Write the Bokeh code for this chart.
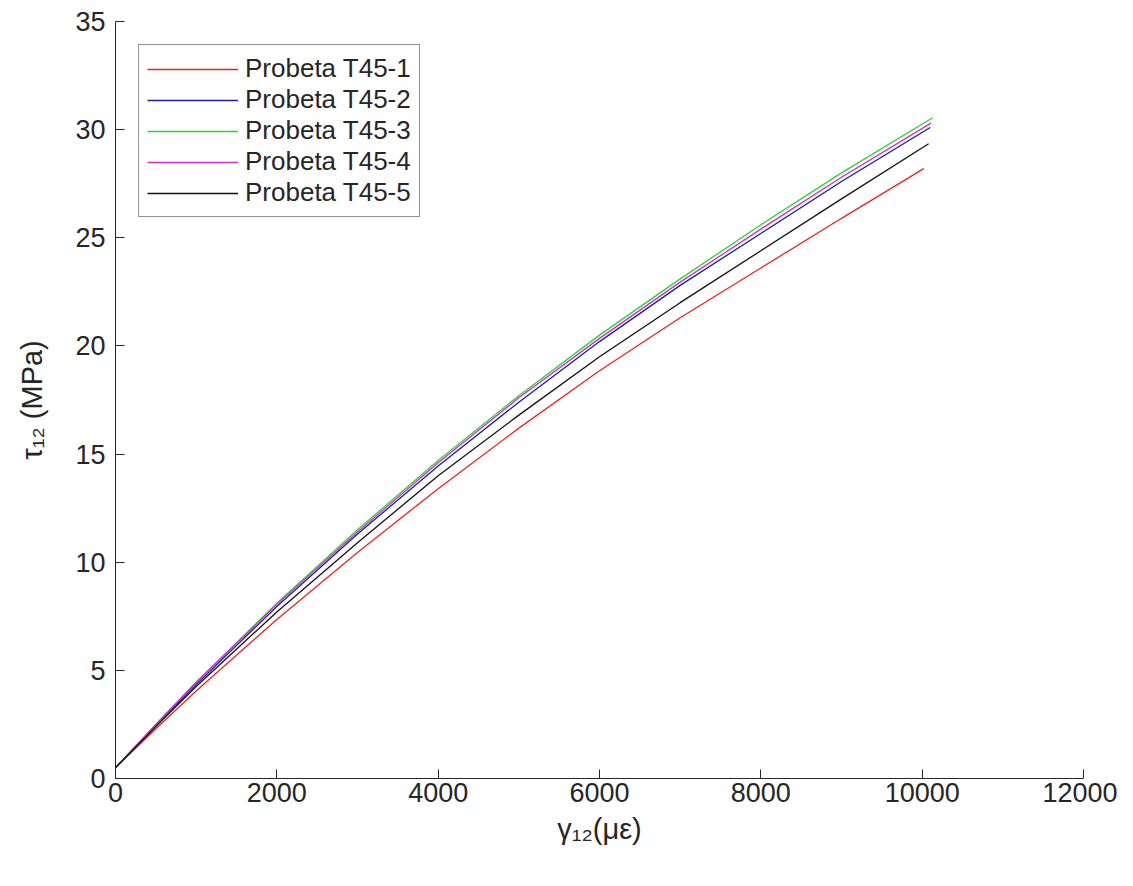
from bokeh.plotting import figure
from bokeh.models import Range1d, FixedTicker, Legend, LegendItem
from bokeh.embed import file_html
from bokeh.resources import INLINE

# ---- data ----
strain_t1 = [0, 500, 1000, 2000, 3000, 4000, 5000, 6000, 7000, 8000, 9000, 10020]
stress_t1 = [0.5, 2.3, 4.05, 7.35, 10.45, 13.4, 16.2, 18.85, 21.3, 23.6, 25.9, 28.2]
strain_t2 = [0, 500, 1000, 2000, 3000, 4000, 5000, 6000, 7000, 8000, 9000, 10100]
stress_t2 = [0.5, 2.45, 4.35, 7.95, 11.3, 14.45, 17.4, 20.2, 22.8, 25.2, 27.6, 30.1]
strain_t3 = [0, 500, 1000, 2000, 3000, 4000, 5000, 6000, 7000, 8000, 9000, 10130]
stress_t3 = [0.5, 2.5, 4.45, 8.1, 11.5, 14.7, 17.7, 20.5, 23.1, 25.6, 28.0, 30.55]
strain_t4 = [0, 500, 1000, 2000, 3000, 4000, 5000, 6000, 7000, 8000, 9000, 10110]
stress_t4 = [0.5, 2.5, 4.45, 8.05, 11.4, 14.6, 17.6, 20.35, 22.95, 25.4, 27.8, 30.3]
strain_t5 = [0, 500, 1000, 2000, 3000, 4000, 5000, 6000, 7000, 8000, 9000, 10080]
stress_t5 = [0.5, 2.4, 4.25, 7.7, 10.9, 14.0, 16.8, 19.5, 22.0, 24.4, 26.8, 29.35]

series_names = ["Probeta T45-1", "Probeta T45-2", "Probeta T45-3", "Probeta T45-4", "Probeta T45-5"]
series_colors = ["#ee2222", "#1c1c9c", "#2ed22e", "#c832c8", "#111111"]

x_ticks = [0, 2000, 4000, 6000, 8000, 10000, 12000]
y_ticks = [0, 5, 10, 15, 20, 25, 30, 35]

x_label = "γ₁₂(με)"
y_label = "τ₁₂ (MPa)"

TXT = "#262626"
FONT = "Liberation Sans"

p = figure(width=1117, height=870, output_backend="svg", toolbar_location=None,
           x_range=Range1d(0, 12000), y_range=Range1d(0, 35),
           min_border_left=115, min_border_right=34, min_border_top=21, min_border_bottom=92)
p.background_fill_color = "white"
p.border_fill_color = "white"
p.outline_line_color = None
p.xgrid.visible = False
p.ygrid.visible = False

for ax in (p.xaxis[0], p.yaxis[0]):
    ax.axis_line_color = TXT
    ax.axis_line_width = 1
    ax.major_tick_line_color = TXT
    ax.major_tick_in = 9
    ax.major_tick_out = 0
    ax.minor_tick_line_color = None
    ax.major_label_text_font = FONT
    ax.major_label_text_font_size = "27px"
    ax.major_label_text_color = TXT
    ax.axis_label_text_font = FONT
    ax.axis_label_text_font_style = "normal"
    ax.axis_label_text_font_size = "29px"
    ax.axis_label_text_color = TXT
p.xaxis.ticker = FixedTicker(ticks=x_ticks)
p.yaxis.ticker = FixedTicker(ticks=y_ticks)
p.xaxis.major_label_standoff = 4
p.yaxis.major_label_standoff = 10
p.xaxis.axis_label = x_label
p.yaxis.axis_label = y_label
p.xaxis.axis_label_standoff = 8
p.yaxis.axis_label_standoff = 24

strains = [strain_t1, strain_t2, strain_t3, strain_t4, strain_t5]
stresses = [stress_t1, stress_t2, stress_t3, stress_t4, stress_t5]
items = []
for xs, ys, name, col in zip(strains, stresses, series_names, series_colors):
    r = p.line(xs, ys, line_color=col, line_width=1.3)
    items.append(LegendItem(label=name, renderers=[r]))

legend = Legend(items=items, location="top_left", margin=23,
                padding=6, spacing=0, label_standoff=7,
                glyph_width=91, glyph_height=26, label_height=26,
                label_text_font=FONT, label_text_font_size="26px", label_text_color=TXT,
                border_line_color=TXT, border_line_width=1,
                background_fill_color="white", background_fill_alpha=1.0)
legend.padding = 8
p.add_layout(legend)

open("out.html", "w").write(file_html(p, INLINE))
